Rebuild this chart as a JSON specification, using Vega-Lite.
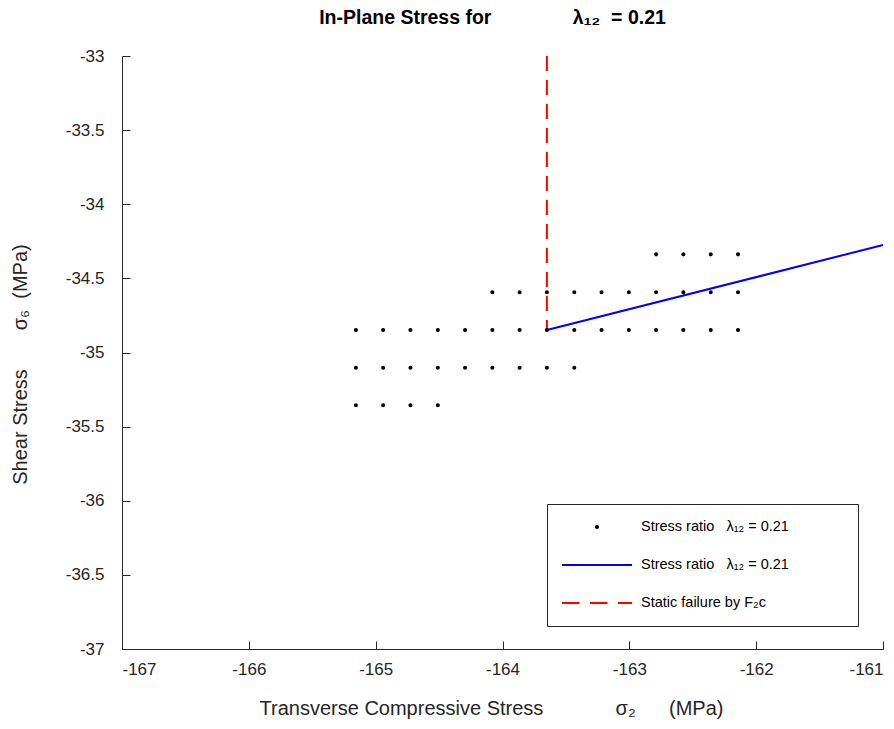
{
  "$schema": "https://vega.github.io/schema/vega-lite/v6.json",
  "autosize": {"type": "none"},
  "padding": {"left": 122, "top": 56, "right": 11, "bottom": 80},
  "width": 761,
  "height": 593,
  "background": "white",
  "title": {
    "text": "In-Plane Stress for\u00a0\u00a0\u00a0\u00a0\u00a0\u00a0\u00a0\u00a0\u00a0\u00a0\u00a0\u00a0\u00a0\u00a0\u00a0λ₁₂\u00a0\u00a0= 0.21",
    "fontSize": 19.5,
    "fontWeight": "bold",
    "font": "Liberation Sans",
    "color": "#000000",
    "anchor": "middle",
    "offset": 19,
    "dx": -10
  },
  "config": {
    "view": {"stroke": null},
    "font": "Liberation Sans",
    "axis": {
      "grid": false,
      "domainColor": "#262626",
      "tickColor": "#262626",
      "labelColor": "#262626",
      "titleColor": "#262626",
      "labelFont": "Liberation Sans",
      "titleFont": "Liberation Sans",
      "labelFontSize": 17,
      "titleFontSize": 20,
      "titleFontWeight": "normal",
      "tickSize": -8,
      "domainWidth": 1,
      "tickWidth": 1
    },
    "legend": {
      "title": null,
      "orient": "none",
      "legendX": 425,
      "legendY": 448,
      "symbolSize": 4900,
      "clipHeight": 18,
      "rowPadding": 20,
      "padding": 14,
      "labelOffset": 8,
      "labelFontSize": 14.5,
      "labelFont": "Liberation Sans",
      "labelColor": "#000000",
      "labelLimit": 400,
      "strokeColor": "#262626",
      "fillColor": "#FFFFFF",
      "symbolStrokeWidth": 2
    }
  },
  "datasets": {
    "dots": [
      {"x": -162.789, "y": -34.338, "s": "dots"},
      {"x": -162.574, "y": -34.338, "s": "dots"},
      {"x": -162.358, "y": -34.338, "s": "dots"},
      {"x": -162.143, "y": -34.338, "s": "dots"},
      {"x": -164.080, "y": -34.594, "s": "dots"},
      {"x": -163.865, "y": -34.594, "s": "dots"},
      {"x": -163.650, "y": -34.594, "s": "dots"},
      {"x": -163.434, "y": -34.594, "s": "dots"},
      {"x": -163.219, "y": -34.594, "s": "dots"},
      {"x": -163.004, "y": -34.594, "s": "dots"},
      {"x": -162.789, "y": -34.594, "s": "dots"},
      {"x": -162.574, "y": -34.594, "s": "dots"},
      {"x": -162.358, "y": -34.594, "s": "dots"},
      {"x": -162.143, "y": -34.594, "s": "dots"},
      {"x": -165.156, "y": -34.848, "s": "dots"},
      {"x": -164.941, "y": -34.848, "s": "dots"},
      {"x": -164.726, "y": -34.848, "s": "dots"},
      {"x": -164.510, "y": -34.848, "s": "dots"},
      {"x": -164.295, "y": -34.848, "s": "dots"},
      {"x": -164.080, "y": -34.848, "s": "dots"},
      {"x": -163.865, "y": -34.848, "s": "dots"},
      {"x": -163.650, "y": -34.848, "s": "dots"},
      {"x": -163.434, "y": -34.848, "s": "dots"},
      {"x": -163.219, "y": -34.848, "s": "dots"},
      {"x": -163.004, "y": -34.848, "s": "dots"},
      {"x": -162.789, "y": -34.848, "s": "dots"},
      {"x": -162.574, "y": -34.848, "s": "dots"},
      {"x": -162.358, "y": -34.848, "s": "dots"},
      {"x": -162.143, "y": -34.848, "s": "dots"},
      {"x": -165.156, "y": -35.103, "s": "dots"},
      {"x": -164.941, "y": -35.103, "s": "dots"},
      {"x": -164.726, "y": -35.103, "s": "dots"},
      {"x": -164.510, "y": -35.103, "s": "dots"},
      {"x": -164.295, "y": -35.103, "s": "dots"},
      {"x": -164.080, "y": -35.103, "s": "dots"},
      {"x": -163.865, "y": -35.103, "s": "dots"},
      {"x": -163.650, "y": -35.103, "s": "dots"},
      {"x": -163.434, "y": -35.103, "s": "dots"},
      {"x": -165.156, "y": -35.356, "s": "dots"},
      {"x": -164.941, "y": -35.356, "s": "dots"},
      {"x": -164.726, "y": -35.356, "s": "dots"},
      {"x": -164.510, "y": -35.356, "s": "dots"}
    ],
    "ratioLine": [
      {"x": -163.650, "y": -34.848},
      {"x": -161.0, "y": -34.275}
    ],
    "failure": [
      {"x": -163.650, "y": -33.0, "y2": -34.848}
    ]
  },
  "layer": [
    {
      "data": {"name": "failure"},
      "mark": {"type": "rule", "color": "#FF0000", "strokeWidth": 2, "strokeDash": [15, 9]},
      "encoding": {
        "x": {"field": "x", "type": "quantitative"},
        "y": {"field": "y", "type": "quantitative"},
        "y2": {"field": "y2"}
      }
    },
    {
      "data": {"name": "ratioLine"},
      "mark": {"type": "line", "color": "#0000FF", "strokeWidth": 2},
      "encoding": {
        "x": {"field": "x", "type": "quantitative"},
        "y": {"field": "y", "type": "quantitative"}
      }
    },
    {
      "data": {"name": "dots"},
      "mark": {"type": "point", "filled": false, "strokeWidth": 2, "size": 4900, "opacity": 1},
      "encoding": {
        "x": {
          "field": "x", "type": "quantitative",
          "scale": {"domain": [-167, -161], "nice": false, "zero": false},
          "axis": {
            "values": [-167, -166, -165, -164, -163, -162, -161],
            "labelExpr": "'-' + format(abs(datum.value), '~g')",
            "labelPadding": 20,
            "title": "Transverse Compressive Stress\u00a0\u00a0\u00a0\u00a0\u00a0\u00a0\u00a0\u00a0\u00a0\u00a0\u00a0\u00a0\u00a0σ₂\u00a0\u00a0\u00a0\u00a0\u00a0\u00a0(MPa)",
            "titleX": 369,
            "titleY": 59,
            "titleBaseline": "middle"
          }
        },
        "y": {
          "field": "y", "type": "quantitative",
          "scale": {"domain": [-37, -33], "nice": false, "zero": false},
          "axis": {
            "values": [-37, -36.5, -36, -35.5, -35, -34.5, -34, -33.5, -33],
            "labelExpr": "'-' + format(abs(datum.value), '~g')",
            "labelPadding": 26,
            "title": "Shear Stress\u00a0\u00a0\u00a0\u00a0\u00a0\u00a0\u00a0σ₆\u00a0\u00a0(MPa)",
            "titleX": -102,
            "titleY": 308,
            "titleBaseline": "middle"
          }
        },
        "color": {
          "field": "s", "type": "nominal",
          "scale": {
            "domain": ["dots", "line", "failure"],
            "range": ["#000000", "#0000FF", "#FF0000"]
          },
          "legend": {
            "labelExpr": "datum.value == 'failure' ? 'Static failure by F₂c' : 'Stress ratio\u00a0\u00a0\u00a0λ₁₂\u00a0= 0.21\u2800\u2800\u2800\u2800\u2800'"
          }
        },
        "shape": {
          "field": "s", "type": "nominal",
          "scale": {
            "domain": ["dots", "line", "failure"],
            "range": [
              "M-0.03,0A0.03,0.03,0,1,1,0.03,0A0.03,0.03,0,1,1,-0.03,0Z",
              "M-1,0H1",
              "M-1,0H-0.5M-0.2,0H0.3M0.6,0H1"
            ]
          },
          "legend": {
            "labelExpr": "datum.value == 'failure' ? 'Static failure by F₂c' : 'Stress ratio\u00a0\u00a0\u00a0λ₁₂\u00a0= 0.21\u2800\u2800\u2800\u2800\u2800'"
          }
        }
      }
    }
  ]
}
